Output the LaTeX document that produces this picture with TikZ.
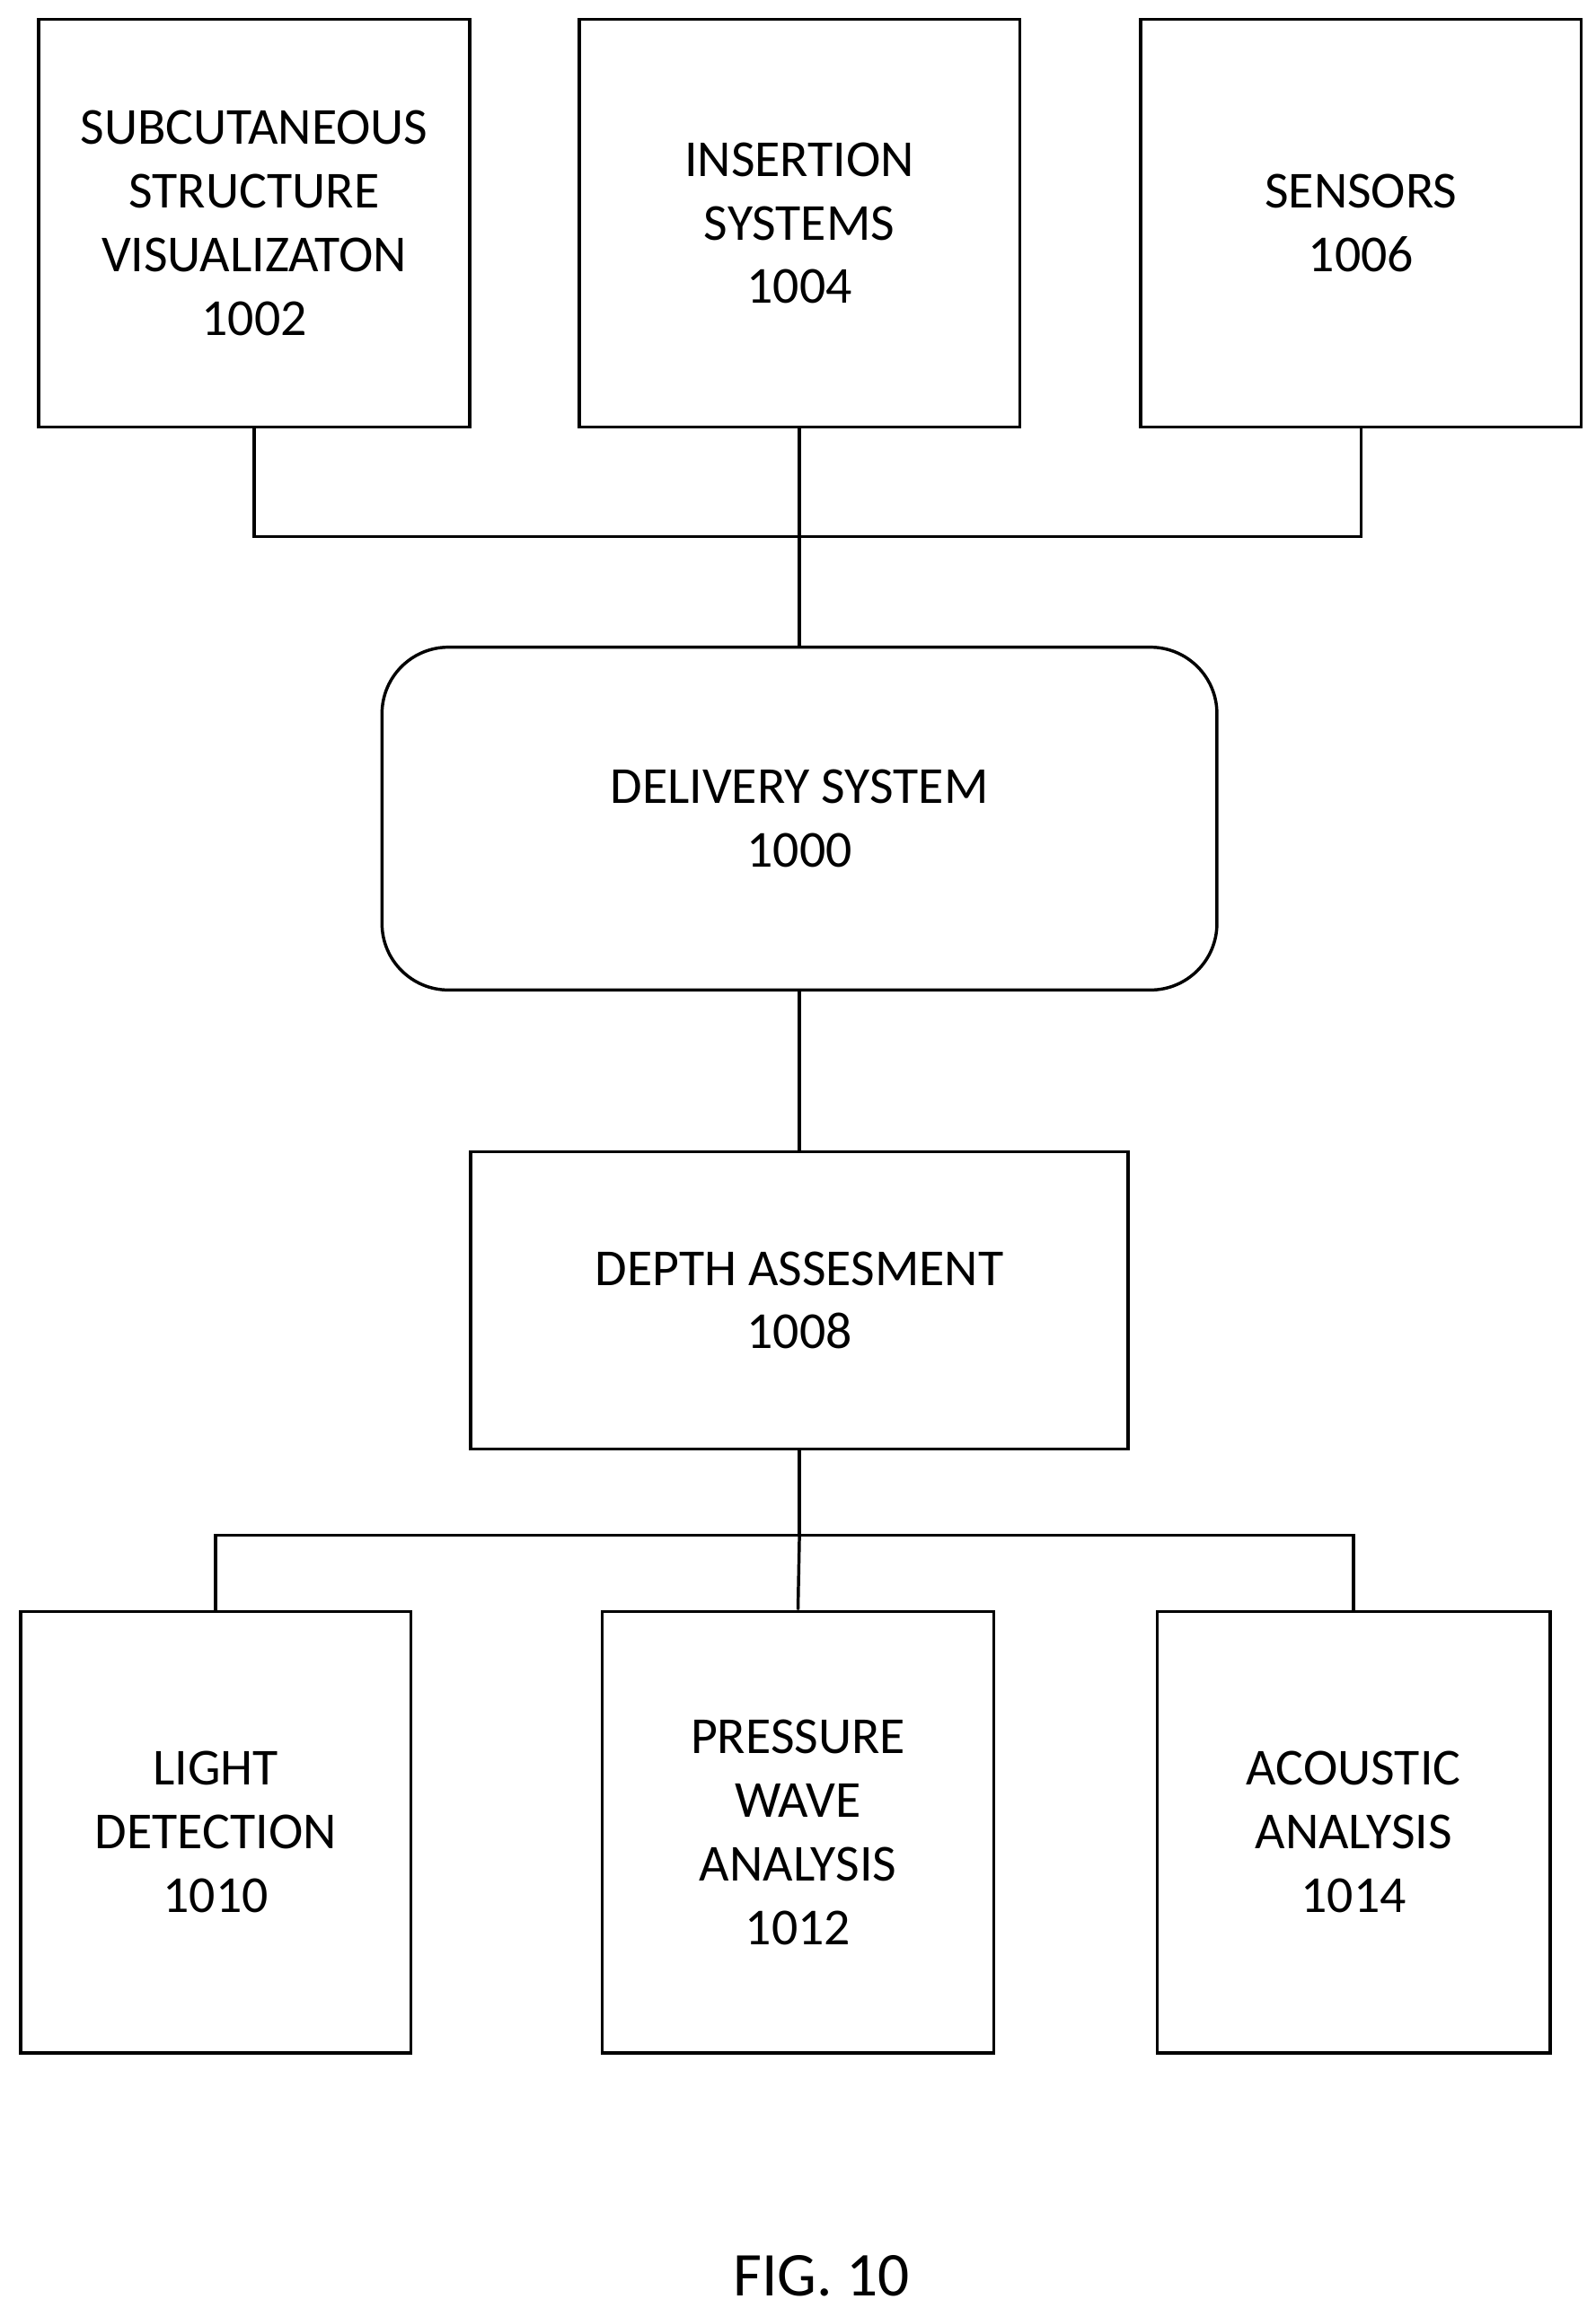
\documentclass[tikz,border=0pt]{standalone}
\usepackage{fontspec}
\setmainfont{Carlito}
\begin{document}
\begin{tikzpicture}[x=0.02cm,y=-0.02cm,
  box/.style={draw,line width=1.2pt,align=center,inner sep=0pt,font=\fontsize{20}{24.5}\selectfont},
  ln/.style={line width=1.2pt}]
\useasboundingbox (0,0) rectangle (1080,1562);
\node[box,minimum width=292*0.02cm,minimum height=276*0.02cm] (a) at (172,151) {SUBCUTANEOUS\\STRUCTURE\\VISUALIZATON\\1002};
\node[box,minimum width=298*0.02cm,minimum height=276*0.02cm] (b) at (541,151) {INSERTION\\SYSTEMS\\1004};
\node[box,minimum width=298*0.02cm,minimum height=276*0.02cm] (c) at (921,151) {SENSORS\\1006};
\node[box,rounded corners=0.9cm,minimum width=565*0.02cm,minimum height=232*0.02cm] (d) at (541,554) {DELIVERY SYSTEM\\1000};
\node[box,minimum width=445*0.02cm,minimum height=201*0.02cm] (e) at (541,880) {DEPTH ASSESMENT\\1008};
\node[box,minimum width=264*0.02cm,minimum height=299*0.02cm] (f) at (146,1240) {LIGHT\\DETECTION\\1010};
\node[box,minimum width=265*0.02cm,minimum height=299*0.02cm] (g) at (540,1240) {PRESSURE\\WAVE\\ANALYSIS\\1012};
\node[box,minimum width=266*0.02cm,minimum height=299*0.02cm] (h) at (916,1240) {ACOUSTIC\\ANALYSIS\\1014};
\coordinate (t) at (541,363);
\coordinate (u) at (541,1039);
\draw[ln] (a.south) |- (t) -| (c.south);
\draw[ln] (b.south) -- (t) -- (d.north);
\draw[ln] (d.south) -- (e.north);
\draw[ln] (e.south) -- (u);
\draw[ln] (f.north) |- (u) -| (h.north);
\draw[ln] (u) -- (g.north);
\node[font=\fontsize{24}{28}\selectfont] (fig) at (556,1540) {FIG. 10};
\end{tikzpicture}
\end{document}
